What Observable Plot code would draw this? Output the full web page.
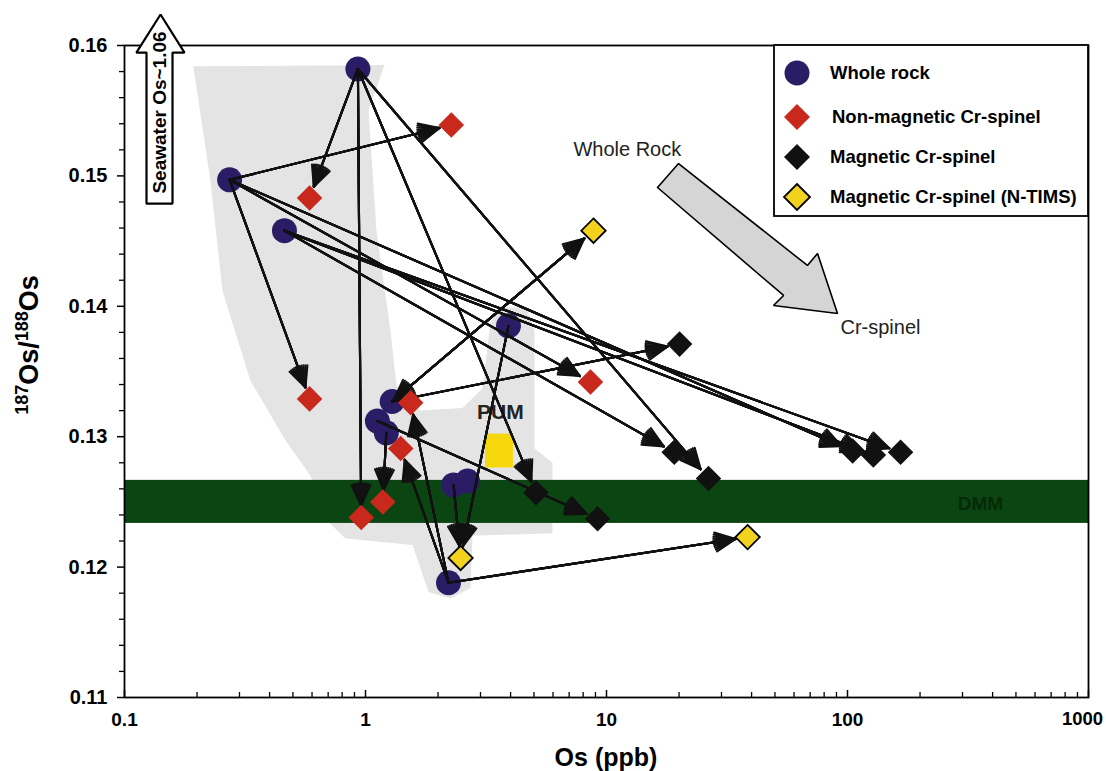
<!DOCTYPE html>
<html>
<head>
<meta charset="utf-8">
<script src="https://cdn.jsdelivr.net/npm/d3@7"></script>
<script src="https://cdn.jsdelivr.net/npm/@observablehq/plot@0.6"></script>
<style>
  body { margin: 0; background: #fff; }
  #chart { width: 1106px; height: 771px; }
  #chart svg { display: block; }
</style>
</head>
<body>
<div id="chart"></div>
<script>
// ---------- data ----------
const wholeRockOs    = [0.93, 0.273, 0.461, 3.92, 1.29, 1.12, 1.22, 2.32, 2.65, 2.21];
const wholeRockRatio = [0.1582, 0.1497, 0.1458, 0.1385, 0.1327, 0.1312, 0.1303, 0.1263, 0.1266, 0.1188];

const nonMagOs    = [2.27, 0.586, 0.586, 8.58, 1.54, 1.40, 1.18, 0.96];
const nonMagRatio = [0.1539, 0.1483, 0.1329, 0.1342, 0.1326, 0.1291, 0.1250, 0.1238];

const magOs    = [20.1, 19.1, 26.5, 9.18, 105, 128, 166, 5.1];
const magRatio = [0.1371, 0.1288, 0.1268, 0.1237, 0.1289, 0.1286, 0.1288, 0.1257];

const ntimsOs    = [8.83, 38.5, 2.48];
const ntimsRatio = [0.1458, 0.1223, 0.1207];

// arrows: whole rock (w) -> non-magnetic (n), magnetic (m), N-TIMS (t)
const linkFrom = ["w0","w0","w0","w0","w1","w1","w1","w1","w2","w2","w2","w3","w4","t0","w4","w5","w6","w7","w9","w9","w9"];
const linkTo   = ["n1","n7","m7","m2","n0","n2","n3","m4","m1","m5","m6","t2","t0","w4","m0","m3","n6","t2","n4","n5","t1"];

// PUM field (grey) outline
const fieldOs    = [0.193, 1.199, 1.029, 1.111, 1.270, 1.345, 1.691, 2.526, 3.059, 3.302, 3.633, 4.656, 5.027, 5.027, 5.970, 5.970, 2.780, 2.728, 2.253, 1.826, 1.567, 0.826, 0.716, 0.591, 0.466, 0.333, 0.255, 0.227];
const fieldRatio = [0.1584, 0.1585, 0.1550, 0.1458, 0.1381, 0.1339, 0.1320, 0.1322, 0.1337, 0.1388, 0.1399, 0.1399, 0.1381, 0.1291, 0.1280, 0.1226, 0.1224, 0.1184, 0.1176, 0.1181, 0.1217, 0.1222, 0.1233, 0.1270, 0.1297, 0.1343, 0.1412, 0.1497];

// PUM box and DMM band
const pumOs = [3.15, 4.11];
const pumRatio = [0.1276, 0.1302];
const dmmRatio = [0.12335, 0.12665];

// "Whole Rock -> Cr-spinel" big arrow outline
const bigArrowOs    = [16.28, 19.9, 68.2, 75.1, 90.9, 49.3, 54.3];
const bigArrowRatio = [0.14911, 0.15095, 0.14313, 0.14405, 0.13945, 0.14006, 0.14083];

// Seawater arrow outline
const seaArrowOs    = [0.1234, 0.1234, 0.112, 0.1411, 0.1774, 0.1582, 0.1582];
const seaArrowRatio = [0.14788, 0.15946, 0.15946, 0.16238, 0.15946, 0.15946, 0.14788];

// annotation labels
const noteText  = ["Whole Rock", "Cr-spinel"];
const noteOs    = [12.2, 137];
const noteRatio = [0.1520, 0.13837];
const pumLabel = {text: "PUM", os: 3.63, ratio: 0.13186};
const dmmLabel = {text: "DMM", os: 356, ratio: 0.12488};
const seaLabel = {text: "Seawater Os~1.06", os: 0.1397, ratio: 0.15486};

// axes
const xDomain = [0.1, 1000];
const yDomain = [0.11, 0.16];
const xTicks = [0.1, 1, 10, 100, 1000];
const xTickLabels = ["0.1", "1", "10", "100", "1000"];
const xMinorTicks = [0.2,0.3,0.4,0.5,0.6,0.7,0.8,0.9, 2,3,4,5,6,7,8,9, 20,30,40,50,60,70,80,90, 200,300,400,500,600,700,800,900];
const yTicks = [0.11, 0.12, 0.13, 0.14, 0.15, 0.16];
const yTickLabels = ["0.11", "0.12", "0.13", "0.14", "0.15", "0.16"];
const yMinorTicks = [0.112,0.114,0.116,0.118, 0.122,0.124,0.126,0.128, 0.132,0.134,0.136,0.138, 0.142,0.144,0.146,0.148, 0.152,0.154,0.156,0.158];
const xTitle = "Os (ppb)";

// legend
const legendLabels = ["Whole rock", "Non-magnetic Cr-spinel", "Magnetic Cr-spinel", "Magnetic Cr-spinel (N-TIMS)"];
const legendFills  = ["#2a1d66", "#c9281d", "#111111", "#f3d21e"];
const legendStroke = ["none", "none", "none", "#000"];
const legendSymbols = ["circle", "diamond", "diamond", "diamond"];

// ---------- build ----------
const pts = (os, ratio, p) => os.map((x, i) => ({id: p + i, x, y: ratio[i]}));
const wr = pts(wholeRockOs, wholeRockRatio, "w");
const nm = pts(nonMagOs, nonMagRatio, "n");
const mg = pts(magOs, magRatio, "m");
const nt = pts(ntimsOs, ntimsRatio, "t");
const byId = new Map([...wr, ...nm, ...mg, ...nt].map(d => [d.id, d]));
const links = linkFrom.map((f, i) => ({a: byId.get(f), b: byId.get(linkTo[i])}));
const fwdLinks = links.filter(l => l.a.id[0] === "w");
const revLinks = links.filter(l => l.a.id[0] !== "w");

const closed = (os, ratio) => { const p = os.map((x, i) => ({x, y: ratio[i]})); p.push(p[0]); return p; };
const field = closed(fieldOs, fieldRatio);
const bigArrow = closed(bigArrowOs, bigArrowRatio);
const seaArrow = closed(seaArrowOs, seaArrowRatio);

const yLab = new Map(yTicks.map((t, i) => [t, yTickLabels[i]]));
const xTickData = xTicks.map((t, i) => ({t, label: xTickLabels[i], y: yDomain[0]}));
const lastX = xTickData.length - 1;

// arrows with solid heads: overlay several heads of decreasing angle
const headAngles = [50, 40, 30, 20, 10];
const arrowMarks = (data, insetStart, insetEnd) => headAngles.map(a =>
  Plot.arrow(data, {x1: d => d.a.x, y1: d => d.a.y, x2: d => d.b.x, y2: d => d.b.y,
    stroke: "#111", strokeWidth: 2.1, headLength: 16, headAngle: a, insetStart, insetEnd, strokeLinejoin: "miter"}));

const FONT = "Liberation Sans, Arial, Helvetica, sans-serif";

const plot = Plot.plot({
  width: 1106,
  height: 771,
  marginLeft: 124,
  marginRight: 18,
  marginTop: 45,
  marginBottom: 74,
  x: {type: "log", domain: xDomain, axis: null},
  y: {domain: yDomain},
  style: {fontFamily: FONT, background: "#fff", color: "#000"},
  marks: [
    Plot.line(field, {x: "x", y: "y", fill: "#e4e4e4", stroke: "none"}),
    Plot.rect([{x1: xDomain[0], x2: xDomain[1], y1: dmmRatio[0], y2: dmmRatio[1]}],
      {x1: "x1", x2: "x2", y1: "y1", y2: "y2", fill: "#0b4612"}),
    Plot.rect([{x1: pumOs[0], x2: pumOs[1], y1: pumRatio[0], y2: pumRatio[1]}],
      {x1: "x1", x2: "x2", y1: "y1", y2: "y2", fill: "#f5d70c"}),
    Plot.text([pumLabel], {x: "os", y: "ratio", text: "text", fontSize: 21, fontWeight: "bold", fill: "#222"}),
    Plot.text([dmmLabel], {x: "os", y: "ratio", text: "text", fontSize: 19, fontWeight: "bold", fill: "#052a08"}),
    Plot.frame({stroke: "#000", strokeWidth: 1.8}),
    Plot.axisY(yTicks, {tickSize: 7, tickPadding: 10, tickFormat: d => yLab.get(d), fontSize: 20, fontWeight: "bold", label: null, strokeWidth: 1.5}),
    Plot.axisY(yMinorTicks, {tickSize: 5, tickFormat: () => "", label: null, strokeWidth: 1.3}),
    // x tick labels (the last one kept inside the picture)
    Plot.text(xTickData.slice(0, lastX), {x: "t", y: "y", text: "label", dy: 22, fontSize: 19, fontWeight: "bold"}),
    Plot.text(xTickData.slice(lastX), {x: "t", y: "y", text: "label", dy: 22, dx: -6, fontSize: 18.5, fontWeight: "bold"}),
    Plot.ruleX(xTicks, {x: d => d, y1: () => yDomain[0], y2: () => yDomain[0], insetBottom: 7, stroke: "#000", strokeWidth: 1.5}),
    Plot.ruleX(xMinorTicks, {x: d => d, y1: () => yDomain[0], y2: () => yDomain[0], insetBottom: 5, stroke: "#000", strokeWidth: 1.3}),
    // big grey arrow
    Plot.line(bigArrow, {x: "x", y: "y", fill: "#d5d5d5", stroke: "#000", strokeWidth: 1.6, strokeLinejoin: "miter"}),
    Plot.text(noteText.map((t, i) => ({t, x: noteOs[i], y: noteRatio[i]})), {x: "x", y: "y", text: "t", fontSize: 20, fill: "#222"}),
    // seawater arrow
    Plot.line(seaArrow, {x: "x", y: "y", fill: "#fff", stroke: "#000", strokeWidth: 2.2, strokeLinejoin: "miter"}),
    Plot.text([seaLabel], {x: "os", y: "ratio", text: "text", rotate: -90, fontSize: 19, fontWeight: "bold", fill: "#000"}),
    // whole rock circles
    Plot.dot(wr, {x: "x", y: "y", r: 12.5, fill: "#2a1d66", stroke: "none"}),
    // arrows
    ...arrowMarks(fwdLinks, 0, 12),
    ...arrowMarks(revLinks, 12, 2),
    // diamonds
    Plot.dot(nm, {x: "x", y: "y", r: 11.5, symbol: "diamond2", fill: "#c9281d", stroke: "none"}),
    Plot.dot(mg, {x: "x", y: "y", r: 11.5, symbol: "diamond2", fill: "#111", stroke: "none"}),
    Plot.dot(nt, {x: "x", y: "y", r: 11, symbol: "diamond2", fill: "#f3d21e", stroke: "#000", strokeWidth: 1.8})
  ]
});

document.getElementById("chart").appendChild(plot);

// ---------- overlays: titles and legend ----------
const svg = d3.select(plot);

svg.append("text")
  .attr("x", 606).attr("y", 766)
  .attr("text-anchor", "middle")
  .attr("font-family", FONT).attr("font-weight", "bold").attr("font-size", 25)
  .text(xTitle);

const yt = svg.append("text")
  .attr("transform", "translate(38,345) rotate(-90)")
  .attr("text-anchor", "middle")
  .attr("font-family", FONT).attr("font-weight", "bold").attr("font-size", 27);
yt.append("tspan").attr("font-size", 18).attr("dy", -10).text("187");
yt.append("tspan").attr("dy", 10).text("Os/");
yt.append("tspan").attr("font-size", 18).attr("dy", -10).text("188");
yt.append("tspan").attr("dy", 10).text("Os");

const lg = svg.append("g");
lg.append("rect").attr("x", 774).attr("y", 45).attr("width", 314).attr("height", 171)
  .attr("fill", "#fff").attr("stroke", "#000").attr("stroke-width", 1.8);
const rowsY = [73, 117, 157, 197];
const diamondPath = d3.symbol(d3.symbolDiamond2, 431)();
legendLabels.forEach((lab, i) => {
  const g = lg.append("g").attr("transform", `translate(797,${rowsY[i]})`);
  if (legendSymbols[i] === "circle") {
    g.append("circle").attr("r", 12.5).attr("fill", legendFills[i]);
  } else {
    g.append("path").attr("d", diamondPath).attr("fill", legendFills[i])
      .attr("stroke", legendStroke[i]).attr("stroke-width", 1.8);
  }
  lg.append("text").attr("x", i === 1 ? 832 : 830).attr("y", rowsY[i])
    .attr("dy", "0.35em")
    .attr("text-anchor", "start")
    .attr("font-family", FONT).attr("font-weight", "bold").attr("font-size", 18.5)
    .text(lab);
});
</script>
</body>
</html>
